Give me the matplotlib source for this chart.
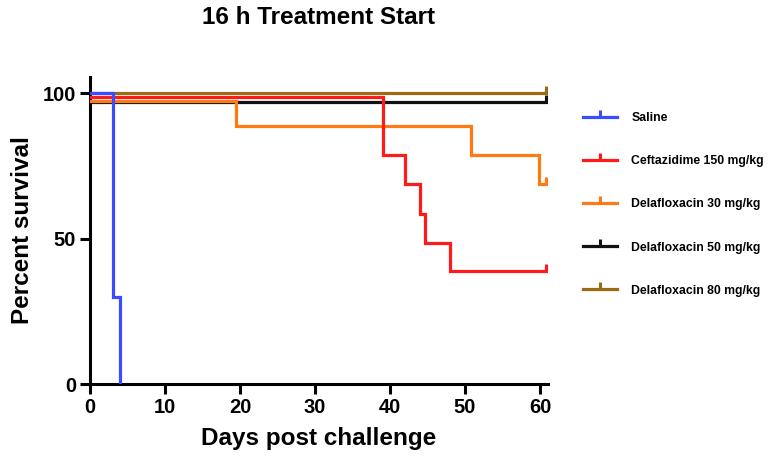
import matplotlib.pyplot as plt
from matplotlib.lines import Line2D

plt.rcParams['font.family'] = ['Liberation Sans', 'DejaVu Sans']
plt.rcParams['font.weight'] = 'bold'

# survival curves (GraphPad nudges overlapping lines a bit)
saline_days = [0, 3, 4]
saline_surv = [100, 30, 0]

ceftaz_days = [0, 39, 42, 44, 44.7, 48, 60.8]
ceftaz_surv = [98.7, 78.7, 68.6, 58.3, 48.6, 38.8, 38.8]

dela30_days = [0, 19.5, 50.8, 59.9, 60.8]
dela30_surv = [97.4, 88.8, 78.7, 68.6, 68.6]

dela50_days = [0, 60.8]
dela50_surv = [97.0, 97.0]

dela80_days = [0, 60.8]
dela80_surv = [100.0, 100.0]

labels = ['Saline', 'Ceftazidime 150 mg/kg', 'Delafloxacin 30 mg/kg',
          'Delafloxacin 50 mg/kg', 'Delafloxacin 80 mg/kg']
colors = ['#3a4cff', '#ff1a1a', '#ff7a12', '#111111', '#9c6a14']

series = [
    (saline_days, saline_surv),
    (ceftaz_days, ceftaz_surv),
    (dela30_days, dela30_surv),
    (dela50_days, dela50_surv),
    (dela80_days, dela80_surv),
]

fig = plt.figure(figsize=(7.68, 4.70), dpi=100)
ax = fig.add_axes([90 / 768, 1 - 384 / 470, 457.5 / 768, 307 / 470])

# draw back to front so brown sits on top like the original
order = [3, 2, 1, 4, 0]
for i in order:
    d, s = series[i]
    ax.step(d, s, where='post', color=colors[i], lw=2.3, solid_joinstyle='miter', zorder=3)
    if i != 0:
        # censor tick at the end of follow-up
        ax.plot([d[-1]], [s[-1]], marker=2, color=colors[i], markersize=5, mew=2.2, zorder=3)

ax.set_xlim(0, 61)
ax.set_ylim(0, 105.5)
ax.set_xticks([0, 10, 20, 30, 40, 50, 60])
ax.set_yticks([0, 50, 100])
for sp in ['top', 'right']:
    ax.spines[sp].set_visible(False)
for sp in ['left', 'bottom']:
    ax.spines[sp].set_linewidth(2.2)
ax.tick_params(width=2.2, length=7, labelsize=14.5, pad=3)
for lab in ax.get_xticklabels() + ax.get_yticklabels():
    lab.set_fontweight('bold')

ax.set_xlabel('Days post challenge', fontsize=17.5, fontweight='bold', labelpad=7)
ax.set_ylabel('Percent survival', fontsize=17.5, fontweight='bold', labelpad=6)
fig.text(318 / 768, 1 - 18 / 470, '16 h Treatment Start', fontsize=17.5,
         fontweight='bold', ha='center', va='center')

handles = [Line2D([], [], color=c, lw=2.3, marker=2, markersize=5, mew=2.2) for c in colors]
fig.legend(handles, labels, loc='upper left', bbox_to_anchor=(583 / 768, 1 - 112 / 470),
           frameon=False, prop={'weight': 'bold', 'size': 8.8},
           handlelength=2.75, handletextpad=1.2, labelspacing=2.55,
           borderpad=0, borderaxespad=0, numpoints=1)

fig.savefig('out.png', dpi=100)
